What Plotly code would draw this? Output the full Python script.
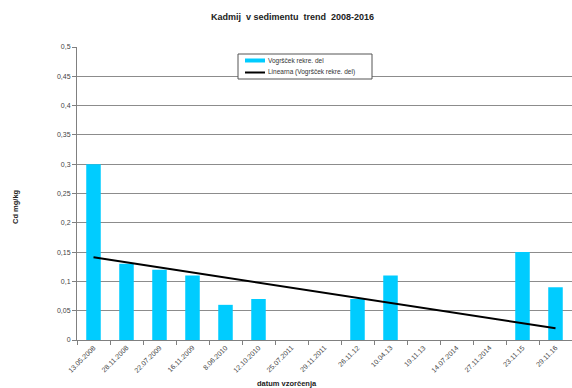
import numpy as np
import plotly.graph_objects as go

# Sampling dates and cadmium concentration in sediment (mg/kg); None = no sample value
dates = ["13.05.2008", "28.11.2008", "22.07.2009", "16.11.2009", "8.06.2010",
         "12.10.2010", "25.07.2011", "29.11.2011", "26.11.12", "10.04.13",
         "19.11.13", "14.07.2014", "27.11.2014", "23.11.15", "29.11.16"]
cd_values = [0.30, 0.13, 0.12, 0.11, 0.06, 0.07, None, None, 0.07, 0.11,
             None, None, None, 0.15, 0.09]

series_name = "Vogršček rekre. del"
trend_name = "Linearna (Vogršček rekre. del)"

BAR_COLOR = "#00CCFF"
TREND_COLOR = "black"

# Linear trend over category index (empty cells counted as zero)
idx = np.arange(1, len(dates) + 1)
y_fit_src = np.array([v if v is not None else 0.0 for v in cd_values])
slope, intercept = np.polyfit(idx, y_fit_src, 1)
trend = slope * idx + intercept

font_family = "Liberation Sans, Arial, sans-serif"

# plot-area geometry in pixels, used to place the compact legend box
W, H = 572, 388
L, R, T, B = 77, 0, 47, 48
PW, PH = W - L - R, H - T - B


def px_x(v):
    return (v - L) / PW


def px_y(v):
    return (H - B - v) / PH


fig = go.Figure()
fig.add_trace(go.Bar(
    x=dates, y=cd_values, name=series_name,
    marker=dict(color=BAR_COLOR, line=dict(width=0)),
))
fig.add_trace(go.Scatter(
    x=dates, y=trend, name=trend_name, mode="lines",
    line=dict(color=TREND_COLOR, width=2),
))

# compact Excel-style legend: frame, swatches and labels
legend_shapes = [
    dict(type="rect", xref="paper", yref="paper",
         x0=px_x(238), x1=px_x(372), y0=px_y(79), y1=px_y(54),
         line=dict(color="#555555", width=1), fillcolor="white", layer="above"),
    dict(type="rect", xref="paper", yref="paper",
         x0=px_x(245), x1=px_x(265), y0=px_y(62.5), y1=px_y(58.5),
         line=dict(width=0), fillcolor=BAR_COLOR, layer="above"),
    dict(type="line", xref="paper", yref="paper",
         x0=px_x(245), x1=px_x(265), y0=px_y(72.5), y1=px_y(72.5),
         line=dict(color=TREND_COLOR, width=2), layer="above"),
]
legend_labels = [
    dict(text=series_name, xref="paper", yref="paper",
         x=px_x(266), y=px_y(60.5), xanchor="left", yanchor="middle",
         showarrow=False, font=dict(size=6.5, color="#333333")),
    dict(text=trend_name, xref="paper", yref="paper",
         x=px_x(266), y=px_y(72.5), xanchor="left", yanchor="middle",
         showarrow=False, font=dict(size=6.5, color="#333333")),
]

fig.update_layout(
    width=W, height=H,
    margin=dict(l=L, r=R, t=T, b=B),
    paper_bgcolor="white", plot_bgcolor="white",
    separators=", ",
    bargap=0.56,
    font=dict(family=font_family, size=7, color="#333333"),
    showlegend=False,
    xaxis=dict(
        type="category", tickangle=-45,
        ticks="outside", ticklen=4, tickcolor="#808080", tickson="boundaries",
        showline=True, linecolor="#808080", linewidth=1,
        showgrid=False, tickfont=dict(size=7, color="#444444"),
    ),
    yaxis=dict(
        range=[0, 0.5], dtick=0.05, tick0=0,
        ticks="outside", ticklen=4, tickcolor="#808080",
        showline=True, linecolor="#808080", linewidth=1,
        showgrid=True, gridcolor="#8c8c8c", gridwidth=1,
        zeroline=False, tickfont=dict(size=7, color="#444444"),
    ),
    shapes=legend_shapes,
    annotations=legend_labels + [
        dict(text="<b>Kadmij  v sedimentu  trend  2008-2016</b>",
             xref="paper", yref="paper", x=px_x(292), y=px_y(17),
             xanchor="center", yanchor="middle", showarrow=False,
             font=dict(size=9, color="#222222")),
        dict(text="<b>Cd mg/kg</b>", textangle=-90,
             xref="paper", yref="paper", x=px_x(15), y=px_y(207),
             xanchor="center", yanchor="middle", showarrow=False,
             font=dict(size=7.5, color="#222222")),
        dict(text="<b>datum vzorčenja</b>",
             xref="paper", yref="paper", x=px_x(287), y=px_y(383),
             xanchor="center", yanchor="middle", showarrow=False,
             font=dict(size=7.5, color="#222222")),
    ],
)

fig.write_html("out.html")
